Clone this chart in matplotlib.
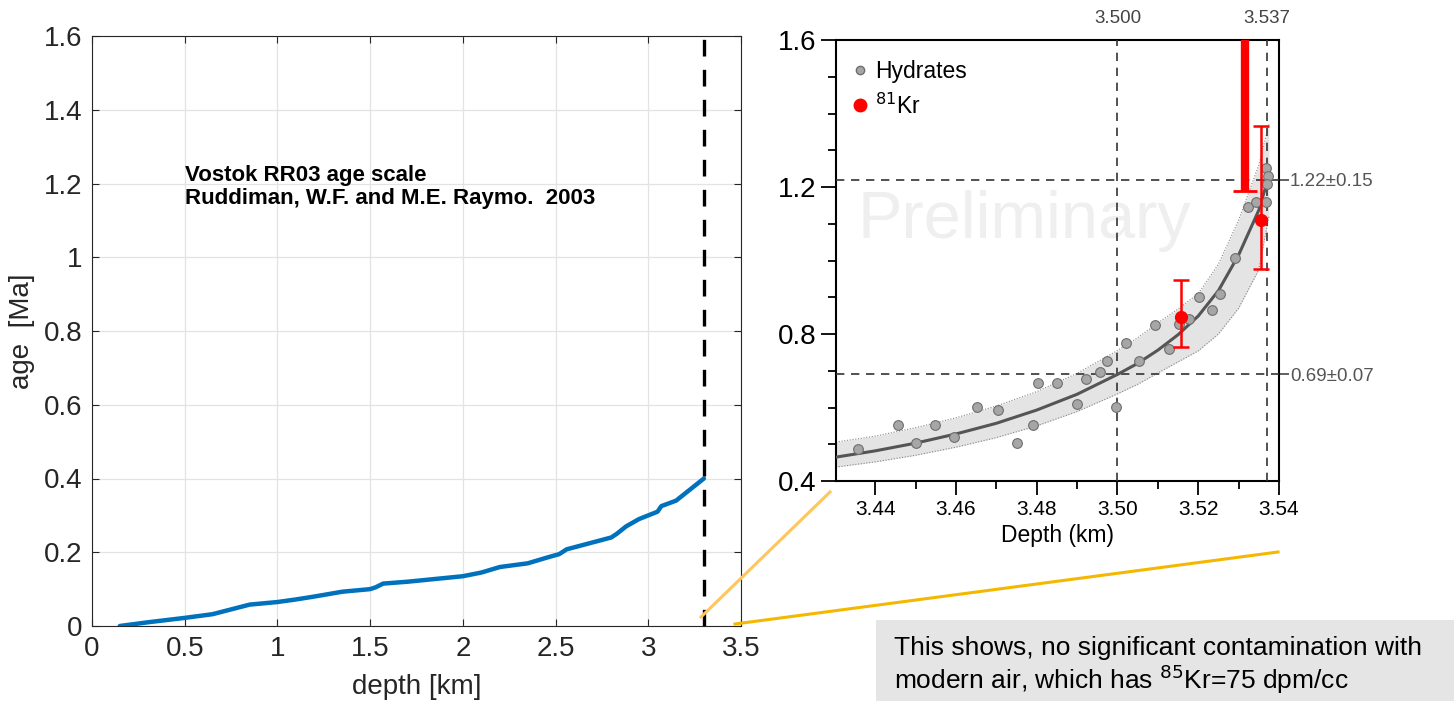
import matplotlib
matplotlib.use("Agg")
import matplotlib.pyplot as plt
from matplotlib.lines import Line2D
from matplotlib.patches import Rectangle
from matplotlib.ticker import MultipleLocator

plt.rcParams["font.family"] = ["Liberation Sans", "DejaVu Sans"]

# left panel: Vostok RR03 age scale
vostok_depth = [0.15, 0.3, 0.5, 0.65, 0.75, 0.85, 1.0, 1.1, 1.2, 1.35, 1.5, 1.53,
                1.57, 1.7, 1.8, 2.0, 2.1, 2.2, 2.35, 2.45, 2.52, 2.56, 2.65, 2.8,
                2.83, 2.88, 2.95, 3.05, 3.07, 3.15, 3.3]
vostok_age = [0.0, 0.01, 0.022, 0.032, 0.045, 0.058, 0.065, 0.072, 0.08, 0.093, 0.1, 0.105,
              0.115, 0.12, 0.125, 0.135, 0.145, 0.16, 0.17, 0.185, 0.195, 0.208, 0.22, 0.24,
              0.25, 0.27, 0.29, 0.31, 0.325, 0.34, 0.40]
cut_depth = 3.3
left_xticks = [0, 0.5, 1, 1.5, 2, 2.5, 3, 3.5]
left_xlabels = ["0", "0.5", "1", "1.5", "2", "2.5", "3", "3.5"]
left_yticks = [0, 0.2, 0.4, 0.6, 0.8, 1.0, 1.2, 1.4, 1.6]
left_ylabels = ["0", "0.2", "0.4", "0.6", "0.8", "1", "1.2", "1.4", "1.6"]

# right panel: hydrates
hyd_depth = [3.4358, 3.4457, 3.4502, 3.4549, 3.4594, 3.4651, 3.4703, 3.4752, 3.479,
             3.4802, 3.4851, 3.4899, 3.4921, 3.4956, 3.4973, 3.4996, 3.502, 3.5053,
             3.5092, 3.5127, 3.5152, 3.5178, 3.5203, 3.5233, 3.5254, 3.5291, 3.5323,
             3.5343, 3.5368, 3.5369, 3.5373, 3.537]
hyd_age = [0.487, 0.552, 0.504, 0.552, 0.520, 0.601, 0.593, 0.504, 0.552,
           0.667, 0.667, 0.610, 0.678, 0.697, 0.727, 0.601, 0.776, 0.727,
           0.824, 0.759, 0.827, 0.841, 0.901, 0.865, 0.909, 1.007, 1.146,
           1.159, 1.159, 1.252, 1.23, 1.208]

fit_depth = [3.4303, 3.44, 3.45, 3.46, 3.47, 3.48, 3.49, 3.50, 3.505, 3.51, 3.515,
             3.52, 3.525, 3.53, 3.535, 3.5375]
fit_age = [0.465, 0.482, 0.503, 0.528, 0.557, 0.593, 0.636, 0.69, 0.72, 0.756, 0.798,
           0.849, 0.918, 1.015, 1.137, 1.23]
fit_low = [0.438, 0.452, 0.470, 0.492, 0.518, 0.550, 0.589, 0.637, 0.663, 0.694, 0.724,
           0.754, 0.800, 0.870, 0.975, 1.12]
fit_high = [0.506, 0.522, 0.545, 0.572, 0.604, 0.643, 0.693, 0.755, 0.790, 0.830, 0.868,
            0.910, 0.990, 1.110, 1.260, 1.37]

kr_depth = [3.5158, 3.5356]
kr_age = [0.846, 1.111]
kr_err_low = [0.081, 0.133]
kr_err_high = [0.101, 0.256]
kr_limit_depth = 3.5315
kr_limit_age = 1.188

ref_depths = [3.500, 3.537]
ref_depth_labels = ["3.500", "3.537"]
ref_ages = [0.69, 1.22]
ref_age_labels = ["0.69±0.07", "1.22±0.15"]

W, H = 1454, 701
fig = plt.figure(figsize=(W / 100, H / 100), dpi=100)


def px_axes(l, t, r, b):
    return fig.add_axes([l / W, 1 - b / H, (r - l) / W, (b - t) / H])


# ---- left panel ----
ax = px_axes(92, 36, 741, 626)
ax.plot(vostok_depth, vostok_age, color="#0072BD", lw=3.2, solid_capstyle="round", zorder=3)
ax.axvline(cut_depth, color="black", lw=2.4, dashes=(5, 4), zorder=4)
ax.set_xlim(0, 3.5)
ax.set_ylim(0, 1.6)
ax.set_xticks(left_xticks, left_xlabels)
ax.set_yticks(left_yticks, left_ylabels)
ax.grid(True, color="#e3e3e3", lw=0.9)
ax.set_axisbelow(True)
ax.tick_params(direction="in", top=True, right=True, length=5, width=0.8,
               labelsize=20, color="#262626", labelcolor="#262626", pad=7)
for s in ax.spines.values():
    s.set_color("#262626")
    s.set_linewidth(0.8)
ax.set_xlabel("depth [km]", fontsize=20, color="#262626", labelpad=9)
ax.set_ylabel("age  [Ma]", fontsize=20, color="#262626", labelpad=6)
ax.text(0.5, 1.25, "Vostok RR03 age scale\nRuddiman, W.F. and M.E. Raymo.  2003",
        fontsize=16, fontweight="bold", va="top", ha="left", linespacing=1.1)

# ---- right panel ----
ax2 = px_axes(836, 40, 1279, 481)
ax2.set_xlim(3.4303, 3.54)
ax2.set_ylim(0.4, 1.6)
ax2.fill_between(fit_depth, fit_low, fit_high, color="#e4e4e4", lw=0, zorder=1)
ax2.plot(fit_depth, fit_low, color="#888888", lw=0.8, ls=(0, (1, 1.5)), zorder=2)
ax2.plot(fit_depth, fit_high, color="#888888", lw=0.8, ls=(0, (1, 1.5)), zorder=2)
ax2.text(0.425, 0.59, "Preliminary", transform=ax2.transAxes, fontsize=48,
         color="#efefef", ha="center", va="center", zorder=1.5)
for d in ref_depths:
    ax2.axvline(d, color="#333333", lw=1.2, dashes=(5, 4), zorder=3)
for a in ref_ages:
    ax2.axhline(a, color="#333333", lw=1.2, dashes=(5, 4), zorder=3)
ax2.plot(fit_depth, fit_age, color="#555555", lw=2.2, zorder=4)
ax2.plot(hyd_depth, hyd_age, "o", ms=7, mfc="#a6a6a6", mec="#6e6e6e", mew=0.8, zorder=5)
ax2.errorbar(kr_depth, kr_age, yerr=[kr_err_low, kr_err_high], fmt="o", ms=8.5,
             color="red", ecolor="red", elinewidth=1.8, capsize=6, capthick=1.8, zorder=6)
ax2.plot([kr_limit_depth, kr_limit_depth], [kr_limit_age, 1.7], color="red", lw=6,
         solid_capstyle="butt", zorder=6)
ax2.plot([kr_limit_depth], [kr_limit_age], marker="_", ms=17, mew=2, color="red", zorder=6)

ax2.set_xticks([3.44, 3.46, 3.48, 3.50, 3.52, 3.54],
               ["3.44", "3.46", "3.48", "3.50", "3.52", "3.54"])
ax2.xaxis.set_minor_locator(MultipleLocator(0.01))
ax2.set_yticks([0.4, 0.8, 1.2, 1.6], ["0.4", "0.8", "1.2", "1.6"])
ax2.yaxis.set_minor_locator(MultipleLocator(0.1))
ax2.tick_params(which="major", direction="out", length=10, width=1.3, labelsize=15, pad=4)
ax2.tick_params(which="minor", direction="out", length=6, width=1.3)
ax2.tick_params(axis="y", which="major", labelsize=20, length=11, pad=3)
for s in ax2.spines.values():
    s.set_linewidth(1.5)
ax2.set_xlabel("Depth (km)", fontsize=16.5, labelpad=3)

top = ax2.secondary_xaxis("top")
top.set_xticks(ref_depths, ref_depth_labels)
top.tick_params(length=0, labelsize=13.5, labelcolor="#444444", pad=9)
top.spines["top"].set_visible(False)
right = ax2.secondary_yaxis("right")
right.set_yticks(ref_ages, ref_age_labels)
right.tick_params(length=7, width=1.2, color="#444444", labelsize=13.5,
                  labelcolor="#555555", pad=1)
right.spines["right"].set_visible(False)

handles = [Line2D([], [], ls="none", marker="o", ms=6, mfc="#a6a6a6", mec="#6e6e6e"),
           Line2D([], [], ls="none", marker="o", ms=9, color="red")]
ax2.legend(handles, ["Hydrates", "$^{81}$Kr"], loc="upper left", bbox_to_anchor=(0, 0.986),
           frameon=False, fontsize=16.5, handletextpad=0.2, borderaxespad=0.2,
           labelspacing=0.45, handlelength=0.9, borderpad=0.4)

# zoom connectors
fig.add_artist(Line2D([701 / W, 830 / W], [1 - 617 / H, 1 - 492 / H],
                      color="#ffc65c", lw=2.2, transform=fig.transFigure))
fig.add_artist(Line2D([735 / W, 1278 / W], [1 - 624 / H, 1 - 552 / H],
                      color="#f5b800", lw=2.2, transform=fig.transFigure))

# note box
fig.add_artist(Rectangle((876 / W, 0), (W - 876) / W, (701 - 620) / H,
                         transform=fig.transFigure, color="#e5e5e5", lw=0))
fig.text(894 / W, 1 - 636 / H,
         "This shows, no significant contamination with\nmodern air, which has $^{85}$Kr=75 dpm/cc",
         fontsize=19, va="top", ha="left", linespacing=1.1)

fig.savefig("out.png", dpi=100)
